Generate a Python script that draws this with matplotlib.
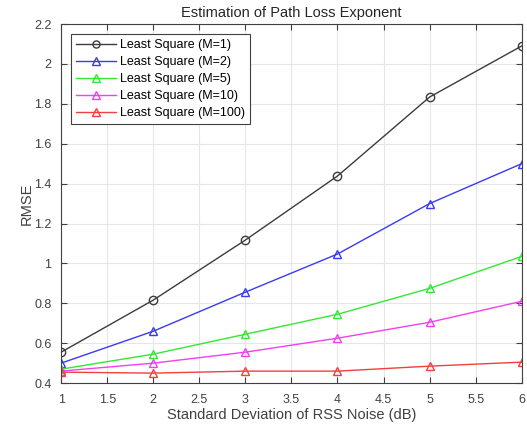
import matplotlib.pyplot as plt

sigma = [1, 2, 3, 4, 5, 6]
rmse_m1 = [0.555, 0.816, 1.117, 1.438, 1.834, 2.09]
rmse_m2 = [0.50, 0.66, 0.856, 1.047, 1.30, 1.50]
rmse_m5 = [0.47, 0.545, 0.645, 0.745, 0.875, 1.035]
rmse_m10 = [0.46, 0.50, 0.555, 0.625, 0.705, 0.81]
rmse_m100 = [0.455, 0.45, 0.46, 0.46, 0.485, 0.505]

plt.rcParams['font.family'] = ['Liberation Sans', 'DejaVu Sans']

fig = plt.figure(figsize=(5.27, 4.29), dpi=100)
ax = fig.add_axes([0.116, 0.107, 0.874, 0.837])

ax.plot(sigma, rmse_m1, color='#3c3c3c', marker='o', mfc='none', ms=6, lw=1, label='Least Square (M=1)')
ax.plot(sigma, rmse_m2, color='#3a3af5', marker='^', mfc='none', ms=6, lw=1, label='Least Square (M=2)')
ax.plot(sigma, rmse_m5, color='#33e833', marker='^', mfc='none', ms=6, lw=1, label='Least Square (M=5)')
ax.plot(sigma, rmse_m10, color='#f040f0', marker='^', mfc='none', ms=6, lw=1, label='Least Square (M=10)')
ax.plot(sigma, rmse_m100, color='#f04040', marker='^', mfc='none', ms=6, lw=1, label='Least Square (M=100)')

ax.set_xlim(1, 6)
ax.set_ylim(0.4, 2.2)
ax.set_xticks([1, 1.5, 2, 2.5, 3, 3.5, 4, 4.5, 5, 5.5, 6])
ax.set_xticklabels(['1', '1.5', '2', '2.5', '3', '3.5', '4', '4.5', '5', '5.5', '6'])
ax.set_yticks([0.4, 0.6, 0.8, 1, 1.2, 1.4, 1.6, 1.8, 2, 2.2])
ax.set_yticklabels(['0.4', '0.6', '0.8', '1', '1.2', '1.4', '1.6', '1.8', '2', '2.2'])
ax.tick_params(direction='in', top=True, right=True, labelsize=9, colors='#404040', length=4)
ax.tick_params(axis='x', pad=8)
ax.tick_params(axis='y', pad=7)
ax.grid(True, color='#e6e6e6', lw=0.8)
for s in ax.spines.values():
    s.set_color('#404040')

ax.set_xlabel('Standard Deviation of RSS Noise (dB)', fontsize=10.5, color='#404040', labelpad=1)
ax.set_ylabel('RMSE', fontsize=10.5, color='#404040', labelpad=0)
ax.set_title('Estimation of Path Loss Exponent', fontsize=10.5, color='#262626', pad=5)

leg = ax.legend(loc='upper left', fontsize=9, fancybox=False, edgecolor='#404040', framealpha=1,
                handlelength=3.2, handletextpad=0.3, borderaxespad=0.8, labelspacing=0.4,
                borderpad=0.4, markerscale=0.85)
leg.get_frame().set_linewidth(0.8)

fig.savefig('out.png', dpi=100)
